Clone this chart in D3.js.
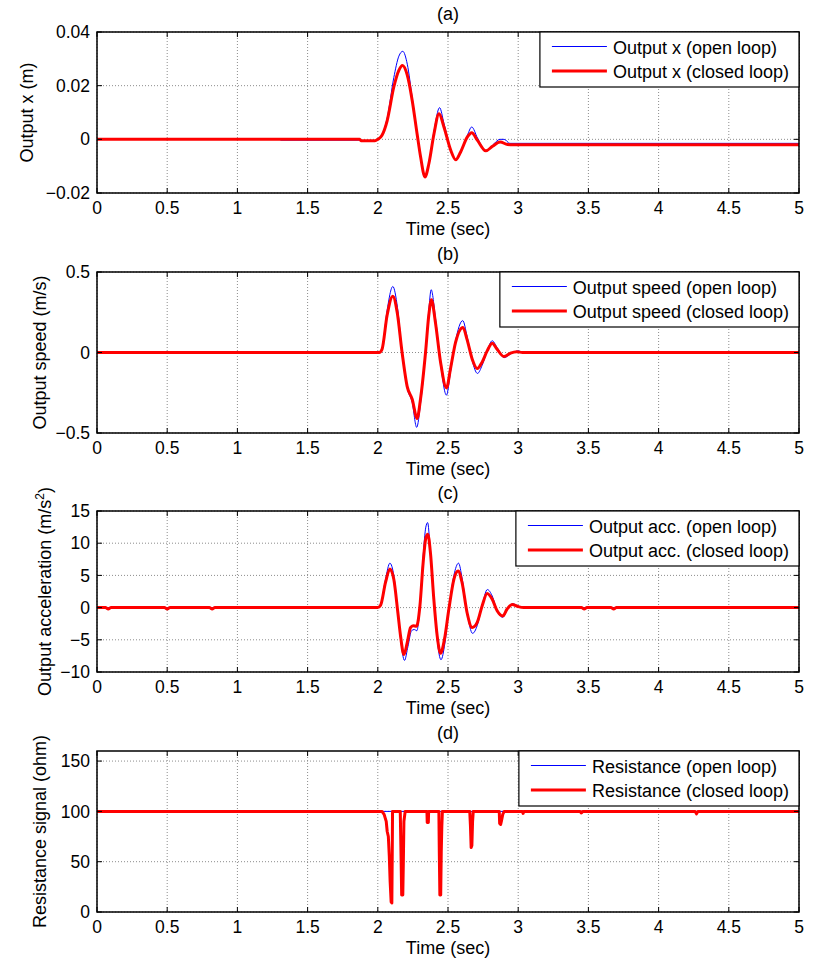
<!DOCTYPE html>
<html>
<head>
<meta charset="utf-8">
<script src="https://cdn.jsdelivr.net/npm/d3@7"></script>
<style>
  body { margin: 0; background: #fff; }
  text { font-family: "Liberation Sans", Arial, sans-serif; fill: #000; }
</style>
</head>
<body>
<div id="chart"></div>
<script>
// Data (time in sec)

const xTicks = [0, 0.5, 1, 1.5, 2, 2.5, 3, 3.5, 4, 4.5, 5];

// (a) output position
const posTicks = [-0.02, 0, 0.02, 0.04];
const posOpen = [[0, 0], [1.3, 0], [1.31, -0.0003], [1.87, -0.0003], [1.88, -0.0005], [1.98, -0.0005],
  [2.0, 0], [2.03, 0.0017], [2.067, 0.008], [2.114, 0.023], [2.15, 0.031], [2.178, 0.0328],
  [2.21, 0.028], [2.245, 0.0155], [2.28, 0.002], [2.305, -0.0068], [2.334, -0.0142], [2.364, -0.009],
  [2.4, 0.003], [2.44, 0.0118], [2.471, 0.006], [2.519, -0.004], [2.555, -0.0078], [2.59, -0.0047],
  [2.638, 0.0015], [2.669, 0.0046], [2.71, 0.0005], [2.769, -0.0044], [2.817, -0.0022], [2.87, 0],
  [2.9, 0], [2.94, -0.0015], [5, -0.0015]];
const posClosed = [[0, 0], [1.87, 0], [1.88, -0.0005], [1.98, -0.0005], [2.0, 0], [2.03, 0.0015],
  [2.067, 0.007], [2.114, 0.0195], [2.15, 0.0257], [2.176, 0.0275], [2.21, 0.0239], [2.245, 0.0145],
  [2.28, 0.002], [2.305, -0.0066], [2.336, -0.014], [2.364, -0.009], [2.4, 0.002], [2.436, 0.0095],
  [2.471, 0.0046], [2.519, -0.004], [2.555, -0.0076], [2.59, -0.0047], [2.638, 0.0009], [2.669, 0.0025],
  [2.71, -0.0004], [2.769, -0.0043], [2.817, -0.0026], [2.871, -0.001], [2.924, -0.0019], [2.96, -0.002],
  [5, -0.002]];

// (b) output speed
const speedTicks = [-0.5, 0, 0.5];
const speedOpen = [[0, 0], [2.01, 0], [2.03, 0.02], [2.066, 0.26], [2.107, 0.41], [2.14, 0.28],
  [2.173, 0], [2.209, -0.22], [2.245, -0.31], [2.277, -0.465], [2.304, -0.32], [2.34, 0],
  [2.363, 0.26], [2.38, 0.39], [2.41, 0.22], [2.447, -0.07], [2.489, -0.265], [2.518, -0.12],
  [2.553, 0.07], [2.605, 0.198], [2.636, 0.1], [2.672, -0.05], [2.71, -0.13], [2.743, -0.08],
  [2.779, 0.01], [2.815, 0.073], [2.85, 0.03], [2.9, -0.032], [2.945, -0.01], [3.0, 0.01],
  [3.04, 0], [5, 0]];
const speedClosed = [[0, 0], [2.01, 0], [2.03, 0.02], [2.066, 0.23], [2.107, 0.35], [2.138, 0.25],
  [2.173, 0], [2.209, -0.21], [2.245, -0.29], [2.28, -0.41], [2.304, -0.29], [2.34, 0],
  [2.363, 0.23], [2.382, 0.327], [2.41, 0.19], [2.447, -0.06], [2.489, -0.22], [2.518, -0.1],
  [2.553, 0.06], [2.606, 0.156], [2.636, 0.08], [2.672, -0.04], [2.708, -0.1], [2.743, -0.06],
  [2.779, 0.01], [2.815, 0.058], [2.85, 0.02], [2.898, -0.025], [2.945, -0.004], [2.99, 0.005],
  [3.03, 0], [5, 0]];

// (c) output acceleration
const accTicks = [-10, -5, 0, 5, 10, 15];
const accOpen = [[0, 0], [2.0, 0], [2.02, 0.4], [2.055, 4.4], [2.086, 6.9], [2.114, 5], [2.143, -0.8],
  [2.162, -4.8], [2.19, -8.2], [2.215, -6], [2.24, -3.6], [2.26, -3.4], [2.278, -3.6], [2.3, 0.3],
  [2.323, 8], [2.342, 12.5], [2.355, 13.2], [2.372, 9.5], [2.399, 1.3], [2.423, -5], [2.45, -8.1],
  [2.478, -5.5], [2.506, -0.3], [2.542, 5], [2.575, 6.9], [2.6, 4.6], [2.636, -0.8], [2.675, -4.0],
  [2.708, -2.8], [2.743, 0.3], [2.78, 2.8], [2.815, 1.8], [2.85, -0.5], [2.89, -1.5], [2.92, -0.4],
  [2.96, 0.6], [3.0, 0.25], [3.04, 0], [5, 0]];
const accClosed = [[0, 0], [0.06, 0], [0.08, -0.2], [0.1, 0], [0.48, 0], [0.5, -0.2], [0.52, 0],
  [0.8, 0], [0.82, -0.2], [0.84, 0], [2.0, 0], [2.02, 0.36], [2.055, 3.9], [2.086, 6.0], [2.114, 4.4],
  [2.143, -0.8], [2.162, -4.4], [2.186, -7.3], [2.21, -5.4], [2.233, -3.1], [2.252, -2.8], [2.276, -2.9],
  [2.3, 0.26], [2.323, 7.0], [2.342, 10.8], [2.356, 11.4], [2.375, 8.5], [2.399, 1.3], [2.423, -4.4],
  [2.447, -7.1], [2.475, -4.9], [2.506, -0.26], [2.542, 4.4], [2.572, 5.7], [2.6, 3.9], [2.636, -0.8],
  [2.672, -3.1], [2.708, -2.3], [2.743, 0.26], [2.779, 2.2], [2.815, 1.3], [2.85, -0.5], [2.89, -1.3],
  [2.92, -0.26], [2.957, 0.5], [3.0, 0.15], [3.04, 0], [3.45, 0], [3.47, -0.2], [3.49, 0], [3.66, 0],
  [3.68, -0.2], [3.7, 0], [5, 0]];

// (d) resistance signal
const resTicks = [0, 50, 100, 150];
const resOpen = [[0, 100], [5, 100]];
const resClosed = [[0, 100], [2.03, 100], [2.045, 97], [2.06, 90], [2.067, 80], [2.075, 75],
  [2.082, 55], [2.088, 30], [2.095, 10], [2.1, 9], [2.103, 60], [2.105, 100], [2.16, 100],
  [2.165, 60], [2.17, 17], [2.178, 17], [2.182, 50], [2.186, 90], [2.195, 100], [2.35, 100],
  [2.352, 89], [2.36, 89], [2.362, 100], [2.435, 100], [2.438, 60], [2.442, 17], [2.448, 17],
  [2.452, 60], [2.456, 85], [2.46, 100], [2.655, 100], [2.66, 85], [2.665, 64], [2.67, 66],
  [2.675, 90], [2.68, 100], [2.865, 100], [2.868, 88], [2.875, 87], [2.88, 90], [2.89, 97],
  [2.9, 100], [3.03, 100], [3.035, 98], [3.04, 100], [3.44, 100], [3.45, 98.5], [3.46, 100],
  [4.26, 100], [4.27, 97.5], [4.28, 100], [5, 100]];

// layout
const width = 813, height = 959;
const plotLeft = 97, plotRight = 799, plotH = 161;

const panels = [
  {title: "(a)", top: 32, domain: [-0.02, 0.04], ticks: posTicks, fmt: d3.format("~g"),
   ylabel: ["Output x (m)"], labelX: 33, open: posOpen, closed: posClosed,
   names: ["Output x (open loop)", "Output x (closed loop)"], curve: d3.curveMonotoneX},
  {title: "(b)", top: 272, domain: [-0.5, 0.5], ticks: speedTicks, fmt: d3.format("~g"),
   ylabel: ["Output speed (m/s)"], labelX: 46, open: speedOpen, closed: speedClosed,
   names: ["Output speed (open loop)", "Output speed (closed loop)"], curve: d3.curveMonotoneX},
  {title: "(c)", top: 511, domain: [-10, 15], ticks: accTicks, fmt: d3.format("~g"),
   ylabel: ["Output acceleration (m/s", "2", ")"], labelX: 51, open: accOpen, closed: accClosed,
   names: ["Output acc. (open loop)", "Output acc. (closed loop)"], curve: d3.curveMonotoneX},
  {title: "(d)", top: 751, domain: [0, 160], ticks: resTicks, fmt: d3.format("~g"),
   ylabel: ["Resistance signal (ohm)"], labelX: 46, open: resOpen, closed: resClosed,
   names: ["Resistance (open loop)", "Resistance (closed loop)"], curve: d3.curveLinear}
];

const svg = d3.select("#chart")
  .append("svg")
  .attr("width", width)
  .attr("height", height);

svg.append("rect")
  .attr("width", width)
  .attr("height", height)
  .attr("fill", "#fff");

const x = d3.scaleLinear().domain([0, 5]).range([plotLeft, plotRight]);

/**
 * drawPanel() draws one MATLAB style subplot: grid, box, ticks, two
 * curves and the legend.
 */
function drawPanel(p, i) {
  const top = p.top, bottom = p.top + plotH;
  const y = d3.scaleLinear().domain(p.domain).range([bottom, top]);
  const g = svg.append("g");

  // dotted grid
  g.selectAll(".gx").data(xTicks).enter().append("line")
    .attr("x1", d => x(d)).attr("x2", d => x(d))
    .attr("y1", top).attr("y2", bottom)
    .attr("stroke", "#8c8c8c").attr("stroke-dasharray", "1,2");
  g.selectAll(".gy").data(p.ticks).enter().append("line")
    .attr("x1", plotLeft).attr("x2", plotRight)
    .attr("y1", d => y(d)).attr("y2", d => y(d))
    .attr("stroke", "#8c8c8c").attr("stroke-dasharray", "1,2");

  // curves
  const clipId = "clip" + i;
  g.append("clipPath").attr("id", clipId)
    .append("rect")
    .attr("x", plotLeft).attr("y", top - 1)
    .attr("width", plotRight - plotLeft).attr("height", plotH + 2);

  const line = d3.line()
    .x(d => x(d[0]))
    .y(d => y(d[1]))
    .curve(p.curve);

  g.append("path").datum(p.open)
    .attr("clip-path", "url(#" + clipId + ")")
    .attr("d", line)
    .attr("fill", "none").attr("stroke", "#0000ff").attr("stroke-width", 1);
  g.append("path").datum(p.closed)
    .attr("clip-path", "url(#" + clipId + ")")
    .attr("d", line)
    .attr("fill", "none").attr("stroke", "#ff0000").attr("stroke-width", 3)
    .attr("stroke-linejoin", "round");

  // inner tick marks on all four sides
  const tl = 5;
  g.selectAll(".tb").data(xTicks).enter().append("path")
    .attr("d", d => "M" + x(d) + "," + bottom + "v" + (-tl) + "M" + x(d) + "," + top + "v" + tl)
    .attr("stroke", "#000");
  g.selectAll(".tl").data(p.ticks).enter().append("path")
    .attr("d", d => "M" + plotLeft + "," + y(d) + "h" + tl + "M" + plotRight + "," + y(d) + "h" + (-tl))
    .attr("stroke", "#000");

  // box
  g.append("rect")
    .attr("x", plotLeft).attr("y", top)
    .attr("width", plotRight - plotLeft).attr("height", plotH)
    .attr("fill", "none").attr("stroke", "#000").attr("stroke-width", 1.5);

  // tick labels
  g.selectAll(".xl").data(xTicks).enter().append("text")
    .attr("x", d => x(d)).attr("y", bottom + 21)
    .attr("text-anchor", "middle").attr("font-size", 17.5)
    .text(d => d3.format("~g")(d));
  g.selectAll(".yl").data(p.ticks).enter().append("text")
    .attr("x", plotLeft - 7).attr("y", d => y(d)).attr("dy", "0.35em")
    .attr("text-anchor", "end").attr("font-size", 17.5)
    .text(d => p.fmt(d));

  // titles
  g.append("text")
    .attr("x", (plotLeft + plotRight) / 2).attr("y", top - 12)
    .attr("text-anchor", "middle").attr("font-size", 18)
    .text(p.title);
  g.append("text")
    .attr("x", (plotLeft + plotRight) / 2).attr("y", bottom + 42)
    .attr("text-anchor", "middle").attr("font-size", 18)
    .text("Time (sec)");

  const yl = g.append("text")
    .attr("transform", "translate(" + p.labelX + "," + (top + plotH / 2) + ") rotate(-90)")
    .attr("text-anchor", "middle").attr("font-size", 18);
  yl.append("tspan").text(p.ylabel[0]);
  if (p.ylabel.length > 1) {
    yl.append("tspan").attr("dy", -7).attr("font-size", 12).text(p.ylabel[1]);
    yl.append("tspan").attr("dy", 7).text(p.ylabel[2]);
  }

  // legend, top right corner of the axes
  const lg = g.append("g");
  const txt = lg.selectAll("text").data(p.names).enter().append("text")
    .attr("x", 73).attr("y", (d, j) => 14.5 + j * 24.5 + 7)
    .attr("font-size", 18)
    .text(d => d);
  const tw = d3.max(txt.nodes(), n => n.getComputedTextLength());
  const lw = 73 + tw + 10;
  lg.attr("transform", "translate(" + (plotRight - lw) + "," + top + ")");
  lg.insert("rect", "text")
    .attr("width", lw).attr("height", 55)
    .attr("fill", "#fff").attr("stroke", "#000").attr("stroke-width", 1.2);
  lg.selectAll(".ls").data([["#0000ff", 1], ["#ff0000", 3]]).enter().append("line")
    .attr("x1", 12).attr("x2", 67)
    .attr("y1", (d, j) => 14.5 + j * 24.5).attr("y2", (d, j) => 14.5 + j * 24.5)
    .attr("stroke", d => d[0]).attr("stroke-width", d => d[1]);
}

panels.forEach(drawPanel);
</script>
</body>
</html>
